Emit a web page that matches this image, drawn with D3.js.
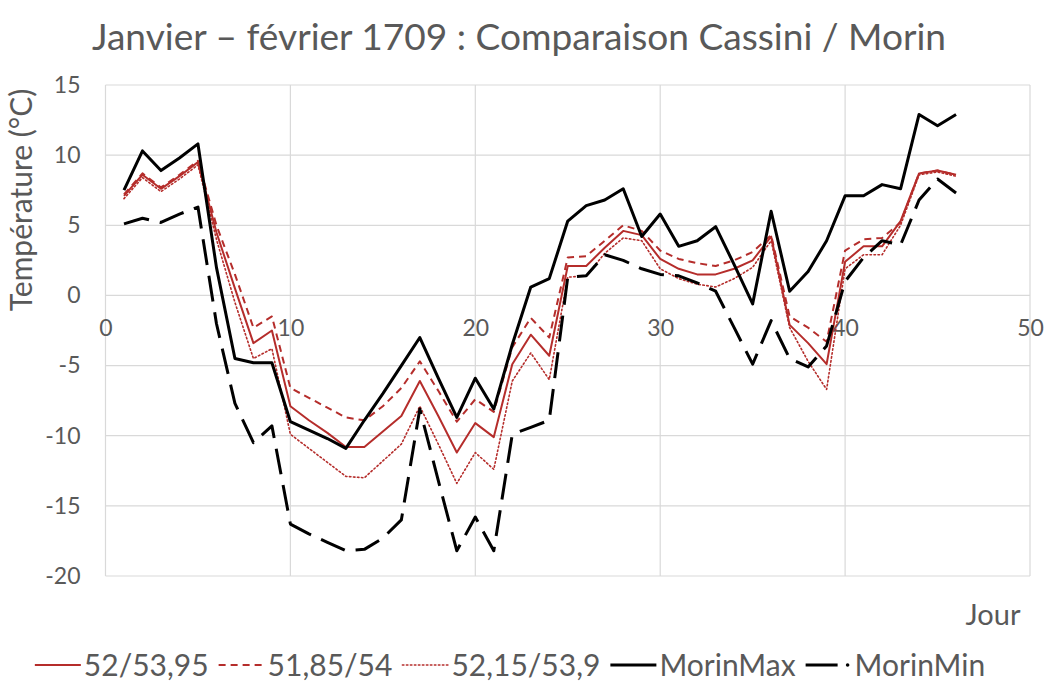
<!DOCTYPE html>
<html>
<head>
<meta charset="utf-8">
<script src="https://cdn.jsdelivr.net/npm/d3@7"></script>
<style>
  body { margin: 0; background: #fff; }
  svg { display: block; }
</style>
</head>
<body>
<svg id="chart"></svg>
<script>
// jours (axe x)
const days = [1, 2, 3, 4, 5, 6, 7, 8, 9, 10, 11, 12, 13, 14, 15, 16, 17, 18, 19, 20, 21, 22, 23,
  24, 25, 26, 27, 28, 29, 30, 31, 32, 33, 34, 35, 36, 37, 38, 39, 40, 41, 42, 43, 44, 45, 46];

// Cassini, trois étalonnages
const cassini1 = [7.1, 8.6, 7.6, 8.5, 9.5, 4.5, 0.5, -3.4, -2.5, -7.9, -8.9, -9.8, -10.8, -10.8, -9.7, -8.6,
  -6.1, -8.6, -11.2, -9.1, -10.1, -4.9, -2.8, -4.3, 2.1, 2.1, 3.4, 4.6, 4.3, 2.6, 1.9, 1.5, 1.5, 1.9,
  2.5, 4.2, -2.1, -3.4, -4.9, 2.4, 3.5, 3.5, 5.3, 8.7, 8.9, 8.6];
const cassini2 = [7.2, 8.7, 7.7, 8.6, 9.6, 5.0, 1.5, -2.3, -1.5, -6.6, -7.3, -8.0, -8.7, -8.9, -7.9, -6.6,
  -4.7, -6.8, -9.0, -7.4, -8.3, -3.7, -1.6, -3.0, 2.7, 2.8, 3.9, 5.0, 4.6, 3.2, 2.6, 2.3, 2.1, 2.5,
  3.1, 4.3, -1.5, -2.3, -3.3, 3.2, 4.0, 4.1, 5.2, 8.7, 8.9, 8.6];
const cassini3 = [6.9, 8.4, 7.4, 8.3, 9.3, 4.0, -0.5, -4.5, -3.8, -9.9, -10.9, -11.9, -12.9, -13.0, -11.8, -10.6,
  -7.9, -10.6, -13.4, -11.2, -12.4, -6.1, -4.1, -6.0, 1.3, 1.4, 3.0, 4.1, 3.9, 1.9, 1.2, 0.8, 0.6, 1.2,
  2.0, 3.9, -2.3, -4.7, -6.7, 1.9, 2.9, 2.9, 5.0, 8.6, 8.8, 8.5];
// Morin
const morinMax = [7.5, 10.3, 8.9, 9.8, 10.8, 2.0, -4.5, -4.8, -4.8, -9.0, -9.6, -10.2, -10.9, -8.9, -7.0, -5.0,
  -3.0, -5.9, -8.7, -5.9, -8.1, -3.5, 0.6, 1.2, 5.3, 6.4, 6.8, 7.6, 4.2, 5.8, 3.5, 3.9, 4.9, 2.2,
  -0.6, 6.0, 0.3, 1.7, 3.9, 7.1, 7.1, 7.9, 7.6, 12.9, 12.1, 12.9];
const morinMin = [5.1, 5.5, 5.2, 5.8, 6.3, -2.0, -7.7, -10.5, -9.3, -16.3, -17.0, -17.6, -18.2, -18.1, -17.3, -16.0,
  -8.1, -13.2, -18.2, -15.8, -18.2, -9.9, -9.4, -8.9, 1.3, 1.4, 2.9, 2.5, 1.9, 1.5, 1.4, 0.9, 0.3, -2.3,
  -4.9, -1.8, -4.5, -5.1, -3.6, 1.0, 2.7, 3.9, 3.6, 6.8, 8.3, 7.3];

const seriesNames = ['52/53,95', '51,85/54', '52,15/53,9', 'MorinMax', 'MorinMin'];
const xTicks = [0, 10, 20, 30, 40, 50];
const yTicks = [-20, -15, -10, -5, 0, 5, 10, 15];

const width = 1045, height = 681;
const margin = { top: 85, right: 15, bottom: 105, left: 105.5 };
const font = 'Lato, "Open Sans", sans-serif';
const grey = '#595959';
const red = '#b52d2b';

const styles = [
  { color: red, w: 2, dash: null },
  { color: red, w: 2, dash: '7,5' },
  { color: red, w: 1.6, dash: '1.5,2.5', cap: 'round' },
  { color: '#000', w: 3, dash: null },
  { color: '#000', w: 3, dash: '26,11' }
];
const series = [cassini1, cassini2, cassini3, morinMax, morinMin].map((vals, i) => ({
  name: seriesNames[i],
  style: styles[i],
  values: days.map((d, j) => ({ day: d, v: vals[j] }))
}));

const svg = d3.select('#chart')
  .attr('width', width)
  .attr('height', height)
  .style('font-family', font);

const x = d3.scaleLinear()
  .domain([0, 50])
  .range([margin.left, width - margin.right]);
const y = d3.scaleLinear()
  .domain([-20, 15])
  .range([height - margin.bottom, margin.top]);

// grille
svg.append('g')
  .selectAll('line')
  .data(yTicks)
  .join('line')
  .attr('x1', x(0)).attr('x2', x(50))
  .attr('y1', d => y(d)).attr('y2', d => y(d))
  .attr('stroke', '#d9d9d9')
  .attr('stroke-width', 1.2);

svg.append('g')
  .selectAll('line')
  .data(xTicks)
  .join('line')
  .attr('x1', d => x(d)).attr('x2', d => x(d))
  .attr('y1', y(15)).attr('y2', y(-20))
  .attr('stroke', '#d9d9d9')
  .attr('stroke-width', 1.2);

const fmt = d => String(d); // tiret simple, comme Excel

// axe y
const yAxis = g => g
  .attr('transform', `translate(${x(0)},0)`)
  .call(d3.axisLeft(y).tickValues(yTicks).tickFormat(fmt).tickSize(0).tickPadding(25))
  .call(g => g.select('.domain').remove())
  .call(g => g.selectAll('text')
    .attr('fill', grey)
    .style('font-family', font)
    .style('font-size', '23px'));
svg.append('g').call(yAxis);

// axe x (croise à 0)
const xAxis = g => g
  .attr('transform', `translate(0,${y(0)})`)
  .call(d3.axisBottom(x).tickValues(xTicks).tickFormat(fmt).tickSize(0).tickPadding(24))
  .call(g => g.select('.domain').remove())
  .call(g => g.selectAll('text')
    .attr('fill', grey)
    .style('font-family', font)
    .style('font-size', '23px'));
svg.append('g').call(xAxis);

// courbes
const line = d3.line()
  .x(d => x(d.day))
  .y(d => y(d.v));

svg.append('g')
  .selectAll('path')
  .data(series)
  .join('path')
  .attr('d', d => line(d.values))
  .attr('fill', 'none')
  .attr('stroke', d => d.style.color)
  .attr('stroke-width', d => d.style.w)
  .attr('stroke-dasharray', d => d.style.dash)
  .attr('stroke-linecap', d => d.style.cap || 'butt')
  .attr('stroke-linejoin', 'round');

// titres
const title = svg.append('text')
  .attr('x', 519)
  .attr('y', 50)
  .attr('text-anchor', 'middle')
  .attr('fill', grey)
  .style('font-size', '36px')
  .text('Janvier – février 1709 : Comparaison Cassini / Morin');
const tw = title.node().getComputedTextLength();
title.style('font-size', (36 * 854 / tw).toFixed(1) + 'px');

svg.append('text')
  .attr('transform', `translate(32,200) rotate(-90)`)
  .attr('text-anchor', 'middle')
  .attr('fill', grey)
  .style('font-size', '30px')
  .text('Température (°C)');

svg.append('text')
  .attr('x', 993)
  .attr('y', 625)
  .attr('text-anchor', 'middle')
  .attr('fill', grey)
  .style('font-size', '29px')
  .text('Jour');

// légende
const legend = svg.append('g').attr('transform', 'translate(0,665)');
const symW = 46, gap = 3, itemGap = 10;
const items = legend.selectAll('g')
  .data(series)
  .join('g');

items.append('text')
  .attr('x', symW + gap)
  .attr('dy', '0.35em')
  .attr('fill', grey)
  .style('font-size', '30px')
  .text(d => d.name);

items.append('line')
  .attr('x1', 0)
  .attr('x2', d => d.name === 'MorinMin' ? symW - 14 : symW)
  .attr('stroke', d => d.style.color)
  .attr('stroke-width', d => d.style.w)
  .attr('stroke-dasharray', d => d.name === 'MorinMin' ? null : d.style.dash)
  .attr('stroke-linecap', d => d.style.cap || 'butt');

items.filter(d => d.name === 'MorinMin')
  .append('circle')
  .attr('cx', symW - 4)
  .attr('r', 1.8)
  .attr('fill', '#000');

let cursor = 0;
const offsets = [];
items.each(function () {
  offsets.push(cursor);
  const w = d3.select(this).select('text').node().getComputedTextLength();
  cursor += symW + gap + w + itemGap;
});
const total = cursor - itemGap;
const start = 510 - total / 2;
items.attr('transform', (d, i) => `translate(${start + offsets[i]},0)`);
</script>
</body>
</html>
